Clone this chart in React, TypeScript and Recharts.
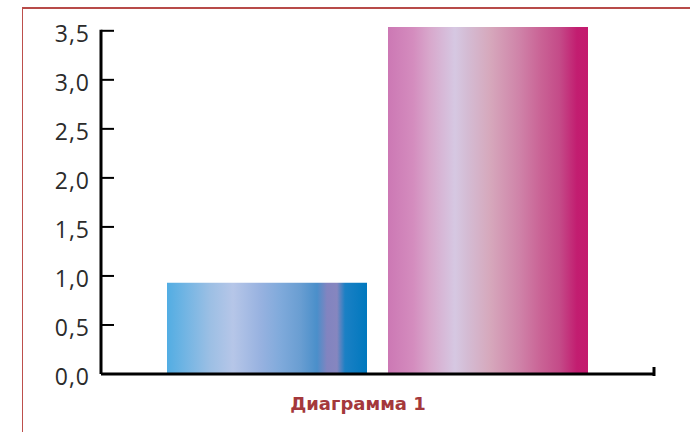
import { BarChart, Bar, XAxis, YAxis } from 'recharts'

const categories = ['Диаграмма 1']
const blueValues = [0.93]
const pinkValues = [3.54]
const yTicks = [0, 0.5, 1, 1.5, 2, 2.5, 3, 3.5]
const yTickLabels = ['0,0', '0,5', '1,0', '1,5', '2,0', '2,5', '3,0', '3,5']
const yMax = 3.6

const blueStops: [number, string][] = [
  [0, '#52ade3'],
  [0.215, '#9cbfe4'],
  [0.33, '#b6c6e8'],
  [0.465, '#98b2e0'],
  [0.565, '#80aadb'],
  [0.665, '#6a9ed2'],
  [0.75, '#4a8fca'],
  [0.8, '#8284c0'],
  [0.85, '#8686bf'],
  [0.89, '#1b80c4'],
  [1, '#0078be'],
]

const pinkStops: [number, string][] = [
  [0, '#cc78b4'],
  [0.125, '#d48cbe'],
  [0.21, '#d8a8cc'],
  [0.335, '#d6c8e2'],
  [0.395, '#d4bcd4'],
  [0.51, '#d6a8bc'],
  [0.66, '#cf82a8'],
  [0.76, '#ca6496'],
  [0.86, '#c44a88'],
  [0.945, '#c21d70'],
  [1, '#c41a6e'],
]

const data = categories.map((name, i) => ({
  name,
  blue: blueValues[i],
  pink: pinkValues[i],
}))

// label, inward tick, and (from the top tick) the axis line down to zero
function YTick({ x, y, index, payload, height }: any) {
  const axisX = x + 11
  const isTop = index === yTicks.length - 1
  return (
    <g>
      <text
        x={x}
        y={y + 2}
        textAnchor="end"
        dominantBaseline="central"
        fontFamily="'Open Sans', sans-serif"
        fontSize={23}
        letterSpacing={1}
        fill="#2b2b2b"
      >
        {yTickLabels[index]}
      </text>
      {payload.value > 0 && (
        <line x1={axisX} x2={axisX + 13} y1={y} y2={y} stroke="#000" strokeWidth={2} />
      )}
      {isTop && (
        <line
          x1={axisX}
          x2={axisX}
          y1={y - 1}
          y2={y + (payload.value / yMax) * height}
          stroke="#000"
          strokeWidth={3}
        />
      )}
    </g>
  )
}

// only one category: its tick sits mid-axis, so the axis end is half a width away
function XEndTick({ x, y, width }: any) {
  const endX = x + width / 2
  return <line x1={endX} x2={endX} y1={y + 2} y2={y - 7} stroke="#000" strokeWidth={3} />
}

export default function App() {
  return (
    <div
      style={{
        position: 'absolute',
        left: 0,
        top: 0,
        width: 690,
        height: 432,
        overflow: 'hidden',
        background: '#fff',
      }}
    >
      {/* red frame, top and left edges only */}
      <div
        style={{
          position: 'absolute',
          left: 22,
          top: 7,
          width: 700,
          height: 440,
          borderLeft: '1.5px solid #bd4f4c',
          borderTop: '2px solid #b84b49',
        }}
      />
      <div style={{ position: 'absolute', left: 0, top: 0 }}>
        <BarChart
          width={690}
          height={432}
          data={data}
          margin={{ top: 21, right: 36, bottom: 0, left: 0 }}
          barGap={21}
        >
          <defs>
            <linearGradient id="gradBlue" x1="0" y1="0" x2="1" y2="0">
              {blueStops.map(([o, c]) => (
                <stop key={o} offset={o} stopColor={c} />
              ))}
            </linearGradient>
            <linearGradient id="gradPink" x1="0" y1="0" x2="1" y2="0">
              {pinkStops.map(([o, c]) => (
                <stop key={o} offset={o} stopColor={c} />
              ))}
            </linearGradient>
          </defs>
          <XAxis
            dataKey="name"
            tick={<XEndTick />}
            tickLine={false}
            tickSize={0}
            tickMargin={0}
            axisLine={{ stroke: '#000', strokeWidth: 3 }}
            height={58}
          />
          <YAxis
            width={101}
            domain={[0, yMax]}
            ticks={yTicks}
            interval={0}
            axisLine={false}
            tickLine={false}
            tickSize={0}
            tickMargin={11}
            tick={<YTick />}
          />
          <Bar dataKey="blue" barSize={200} fill="url(#gradBlue)" isAnimationActive={false} />
          <Bar dataKey="pink" barSize={200} fill="url(#gradPink)" isAnimationActive={false} />
        </BarChart>
      </div>
      <div
        style={{
          position: 'absolute',
          left: 258,
          top: 394,
          width: 200,
          textAlign: 'center',
          fontFamily: "'DejaVu Sans', sans-serif",
          fontWeight: 'bold',
          fontSize: 18,
          lineHeight: '20px',
          color: '#a4383b',
        }}
      >
        {categories[0]}
      </div>
    </div>
  )
}
